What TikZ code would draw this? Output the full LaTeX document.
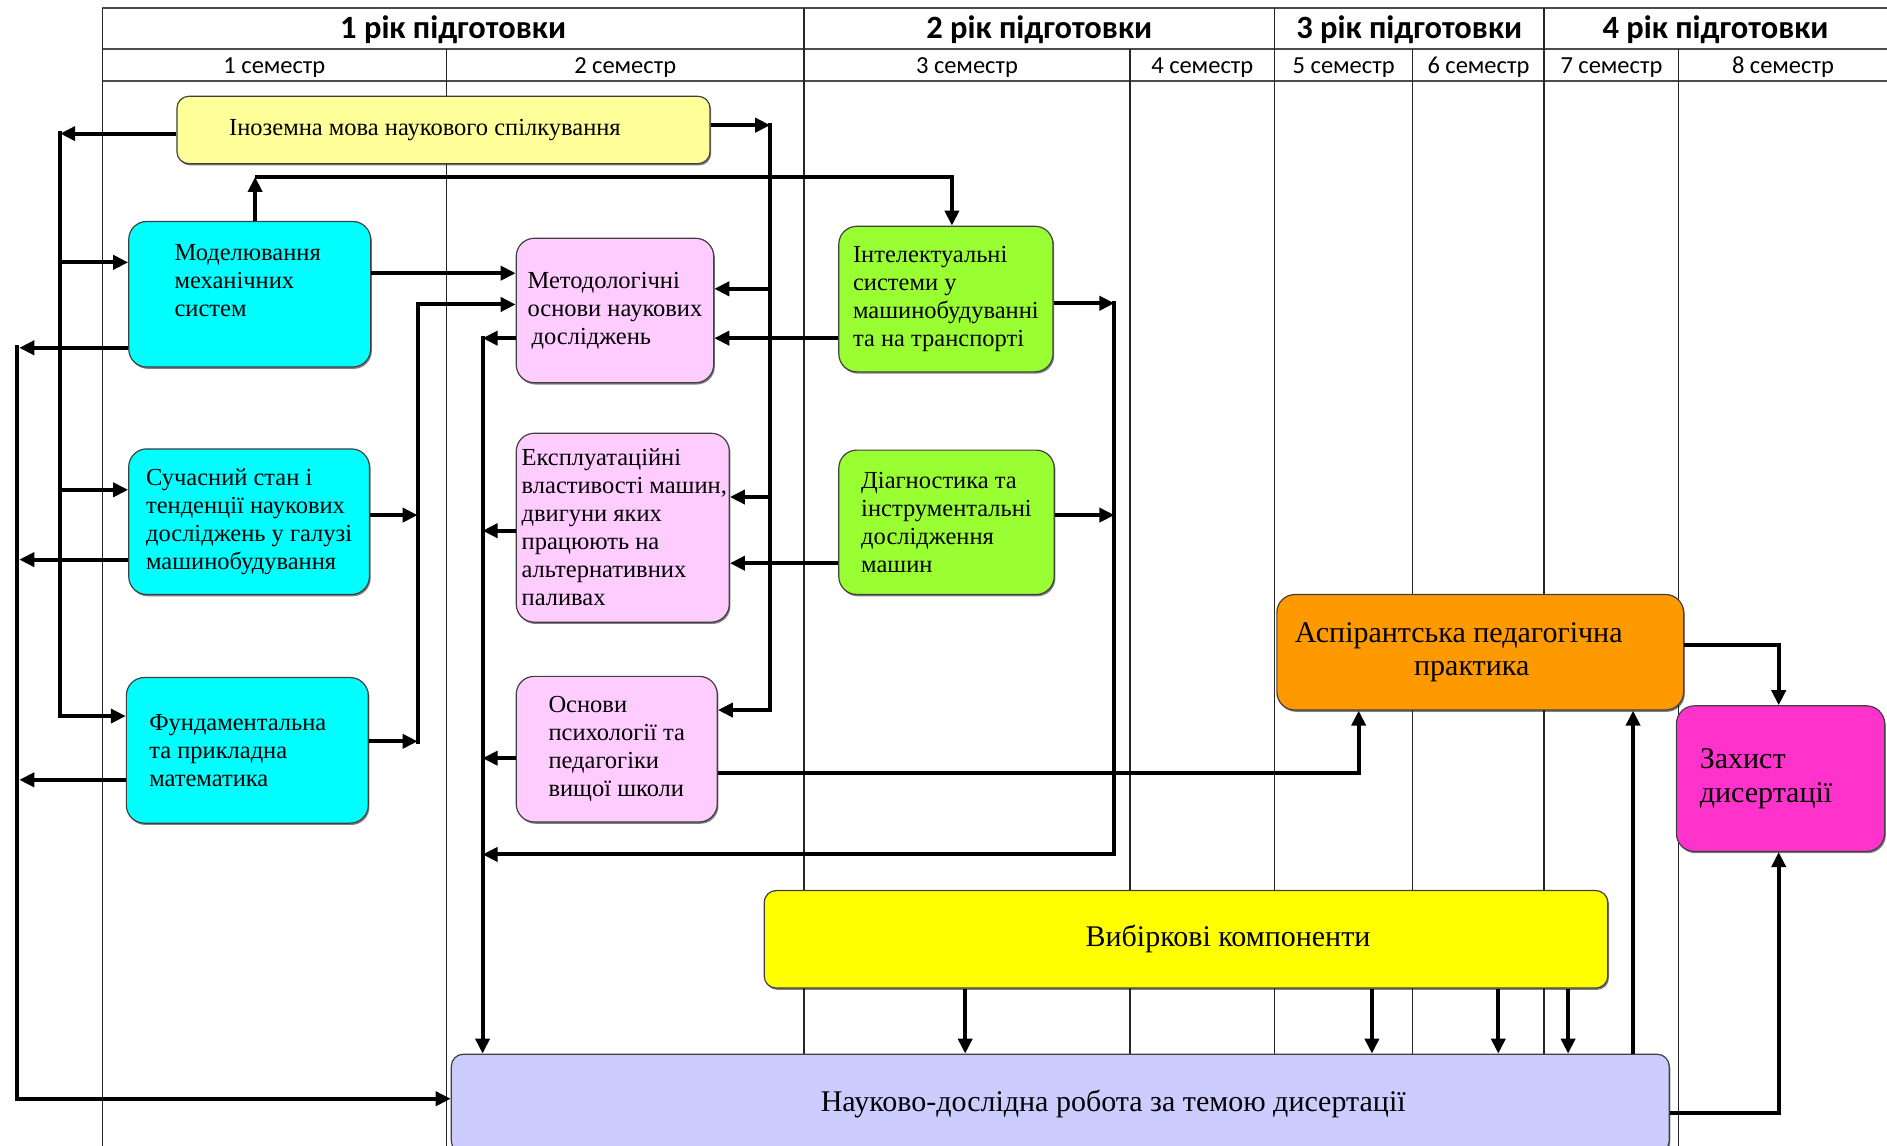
\documentclass[tikz,border=0pt]{standalone}
\usepackage{fontspec}
\setmainfont{Liberation Serif}
\newfontfamily\hdr{Carlito}
\usetikzlibrary{arrows.meta,shadows}
\definecolor{cino}{HTML}{FFFF99}
\definecolor{ccyan}{HTML}{00FFFF}
\definecolor{cpink}{HTML}{FFCCFF}
\definecolor{cgreen}{HTML}{99FF33}
\definecolor{corange}{HTML}{FF9900}
\definecolor{cmag}{HTML}{FF33CC}
\definecolor{cyel}{HTML}{FFFF00}
\definecolor{clav}{HTML}{CCCCFF}
\begin{document}
\begin{tikzpicture}[x=1.2034pt,y=-1.2034pt,
  gline/.style={line width=1.2pt, black!85},
  hline/.style={line width=2pt, black!70},
  box/.style={draw=black!75, line width=1.2pt, rounded corners=18pt, inner sep=2pt, align=left,
    font=\fontsize{24.5}{28}\selectfont,
    drop shadow={shadow xshift=1.2pt, shadow yshift=-1.8pt, opacity=0.5, fill=black}},
  bigbox/.style={box, font=\fontsize{30}{33.7}\selectfont},
  arr/.style={line width=4pt, -{Triangle[length=15pt,width=14pt]}},
  yr/.style={font=\hdr\bfseries\fontsize{32.5}{38}\selectfont},
  sem/.style={font=\hdr\fontsize{24.5}{28}\selectfont}]
\useasboundingbox (0,0) rectangle (1568,952);
\clip (0,0) rectangle (1568,952);

% table grid
\draw[hline] (85,7) -- (1568,7);
\draw[hline] (85,41) -- (1568,41);
\draw[hline] (85,67) -- (1568,67);
\foreach \x in {85,668,1059,1283} \draw[gline] (\x,7) -- (\x,952);
\foreach \x in {371,939,1174,1395} \draw[gline] (\x,41) -- (\x,952);

% headers
\node[yr] (y1) at (376.5,25) {1 рік підготовки};
\node[yr] (y2) at (863.5,25) {2 рік підготовки};
\node[yr] (y3) at (1171,25) {3 рік підготовки};
\node[yr] (y4) at (1425.5,25) {4 рік підготовки};
\node[sem] (s1) at (228,56) {1 семестр};
\node[sem] (s2) at (519.5,56) {2 семестр};
\node[sem] (s3) at (803.5,56) {3 семестр};
\node[sem] (s4) at (999,56) {4 семестр};
\node[sem] (s5) at (1116.5,56) {5 семестр};
\node[sem] (s6) at (1228.5,56) {6 семестр};
\node[sem] (s7) at (1339,56) {7 семестр};
\node[sem] (s8) at (1481.5,56) {8 семестр};

% boxes
\node[box, fill=cino, rounded corners=12pt, minimum width=533.1pt, minimum height=67.4pt] (ino) at (368.5,108)
  {Іноземна мова наукового спілкування\hspace*{37pt}};
\node[box, fill=ccyan, minimum width=241.9pt, minimum height=145.6pt] (mod) at (207.5,244.5)
  {Моделювання\hspace*{4pt}\\механічних\\систем\\\mbox{}};
\node[box, fill=ccyan, minimum width=240.7pt, minimum height=145.6pt] (suc) at (207,433.5)
  {Сучасний стан і\\тенденції наукових\\досліджень у галузі\\машинобудування};
\node[box, fill=ccyan, minimum width=241.9pt, minimum height=145.6pt] (fund) at (205.5,623.5)
  {Фундаментальна\hspace*{19pt}\\та прикладна\\математика};
\node[box, fill=cpink, minimum width=197.4pt, minimum height=144.4pt] (met) at (511,258)
  {Методологічні\\основи наукових\\\hspace*{4pt}досліджень};
\node[box, fill=cpink, minimum width=213pt, minimum height=188.9pt] (exp) at (517.5,438.5)
  {\hspace*{3pt}Експлуатаційні\\\hspace*{3pt}властивості машин,\\\hspace*{3pt}двигуни яких\\\hspace*{3pt}працюють на\\\hspace*{3pt}альтернативних\\\hspace*{3pt}паливах};
\node[box, fill=cpink, minimum width=201pt, minimum height=145.6pt] (osn) at (512.5,622.5)
  {Основи\\психології та\hspace*{14pt}\\педагогіки\\вищої школи};
\node[box, fill=cgreen, minimum width=214.2pt, minimum height=145.6pt] (int) at (786,248.5)
  {Інтелектуальні\\системи у\\машинобудуванні\\та на транспорті};
\node[box, fill=cgreen, minimum width=215.4pt, minimum height=144.4pt] (diag) at (786.5,434)
  {Діагностика та\\інструментальні\\дослідження\\машин};
\node[bigbox, fill=corange, align=center, minimum width=406.7pt, minimum height=115.5pt] (asp) at (1230,542)
  {Аспірантська педагогічна\hspace*{43pt}\\практика\hspace*{17pt}};
\node[bigbox, fill=cmag, minimum width=208.2pt, minimum height=145.6pt] (zah) at (1479.5,647)
  {Захист\\дисертації\hspace*{29pt}};
\node[bigbox, fill=cyel, rounded corners=12pt, minimum width=843.6pt, minimum height=97.5pt] (vyb) at (985.5,780.5)
  {\hspace*{84pt}Вибіркові компоненти};
\node[bigbox, fill=clav, rounded corners=12pt, minimum width=1217.8pt, minimum height=98.7pt] (nauk) at (881,917)
  {\hspace*{106pt}Науково-дослідна робота за темою дисертації};

% bus x=50: foreign language to the first-semester courses
\draw[arr] (ino.west |- 0,111) -- (50,111);
\draw[arr] (50,218) -- (mod.west |- 0,218);
\draw[arr] (50,407) -- (suc.west |- 0,407);
\draw[arr] (50,109) -- (50,595) -- (fund.west |- 0,595);

% bus x=14: to research work
\draw[arr] (mod.west |- 0,289) -- (16,289);
\draw[arr] (suc.west |- 0,465) -- (16,465);
\draw[arr] (fund.west |- 0,648) -- (16,648);
\draw[arr] (14,287) -- (14,913) -- (nauk.west |- 0,913);

% into methodology
\draw[arr] (mod.east |- 0,227) -- (met.west |- 0,227);
\draw[arr] (suc.east |- 0,428) -- (347,428);
\draw[arr] (fund.east |- 0,616) -- (347,616);
\draw[arr] (347,618) -- (347,253) -- (met.west |- 0,253);

% bus x=401: to research work
\draw[arr] (met.west |- 0,281) -- (401,281);
\draw[arr] (exp.west |- 0,441) -- (401,441);
\draw[arr] (osn.west |- 0,630) -- (401,630);
\draw[arr] (401,279) -- (nauk.north -| 401,0);

% bus x=640 from foreign language
\draw[arr] (ino.east |- 0,104) -- (640,104);
\draw[arr] (640,240) -- (met.east |- 0,240);
\draw[arr] (640,413) -- (exp.east |- 0,413);
\draw[arr] (640,102) -- (640,590) -- (osn.east |- 0,590);

% third semester to second
\draw[arr] (int.west |- 0,281) -- (met.east |- 0,281);
\draw[arr] (diag.west |- 0,468) -- (exp.east |- 0,468);

% bus x=926
\draw[arr] (int.east |- 0,252) -- (926,252);
\draw[arr] (diag.east |- 0,428) -- (926,428);
\draw[arr] (926,250) -- (926,710) -- (401,710);

% modelling to intelligent systems
\draw[arr] (mod.north -| 212,0) -- (212,147);
\draw[arr] (212,147) -- (791,147) -- (int.north -| 791,0);

% to pedagogical practice
\draw[arr] (osn.east |- 0,642) -- (1129,642) -- (asp.south -| 1129,0);
\draw[arr] (nauk.north -| 1357,0) -- (asp.south -| 1357,0);

% elective components to research
\foreach \x in {802,1140,1245,1303} \draw[arr] (vyb.south -| \x,0) -- (nauk.north -| \x,0);

% to defence
\draw[arr] (asp.east |- 0,536) -- (1478,536) -- (zah.north -| 1478,0);
\draw[arr] (nauk.east |- 0,925) -- (1478,925) -- (zah.south -| 1478,0);
\end{tikzpicture}
\end{document}
